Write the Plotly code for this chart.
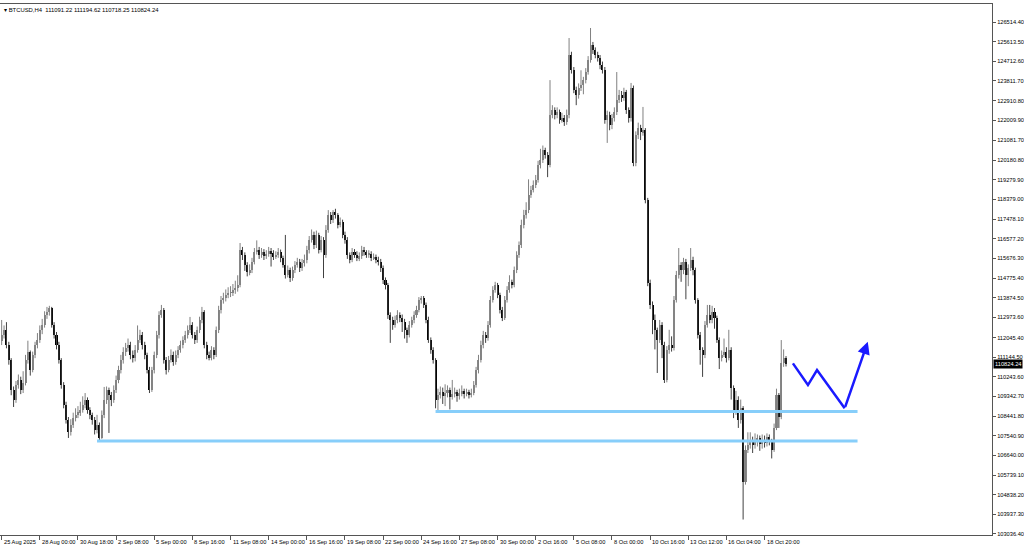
import plotly.graph_objects as go

# BTCUSD H4 bars (bar index 0 = 25 Aug 2025)
opens = [
    111900, 112160, 112390, 111700, 111010, 109640, 109180, 109870, 110100, 109640,
    109960, 111010, 111380, 110560, 111240, 111700, 111930, 112390, 112620, 113080,
    113210, 113400, 112620, 112160, 111700, 111010, 109870, 108950, 108260, 107710,
    108030, 108350, 108490, 108630, 108720, 108950, 109180, 108720, 108490, 108260,
    107800, 108030, 107440, 108490, 109180, 109640, 109410, 109180, 109640, 110100,
    110560, 111010, 111380, 111560, 111700, 111240, 111110, 111470, 111930, 112160,
    111700, 111240, 110560, 109640, 110560, 111240, 112160, 113080, 113310, 111010,
    110560, 111010, 111240, 110920, 111240, 111470, 111700, 111930, 112160, 112390,
    112620, 112160, 111930, 112390, 112850, 113210, 111700, 111240, 111110, 111470,
    111240, 112390, 113310, 113770, 113860, 114000, 114090, 114130, 114220, 114320,
    114450, 116060, 115830, 115370, 115050, 115140, 115510, 115970, 116060, 115830,
    115970, 115780, 115880, 116010, 115920, 115740, 115830, 115970, 115690, 115370,
    114910, 115140, 114770, 115140, 115370, 115510, 115230, 115460, 115600, 116060,
    116520, 116750, 116290, 116750, 116060, 116520, 115830, 116980, 117660, 117430,
    117800, 117660, 117200, 117340, 116750, 116520, 115830, 115600, 115970, 115830,
    115690, 115780, 116060, 115970, 115830, 115880, 115690, 115740, 115600, 115510,
    115230, 114680, 114450, 113080, 112850, 112620, 112850, 113080, 112940, 112760,
    112390, 112160, 112620, 112850, 113080, 113310, 113770, 113860, 113540, 112850,
    111930, 111470, 111010, 109180, 109410, 109550, 109360, 109500, 109640, 109320,
    109460, 109550, 109360, 109500, 109590, 109460, 109550, 109410, 109500, 109870,
    110560, 111010, 111700, 112160, 112020, 112620, 113770, 114220, 114450, 114000,
    113310, 112940, 113770, 114220, 114590, 114450, 115140, 115830, 116290, 117200,
    117660, 117890, 118580, 118810, 119040, 119270, 119960, 120190, 120640, 120420,
    119960, 122250, 122480, 122250, 122390, 122020, 122110, 121930, 122250, 125000,
    124310, 123400, 123170, 123490, 123630, 123850, 124220, 124770, 125460, 125230,
    125000, 124860, 124540, 124310, 122020, 122250, 121790, 122110, 122390, 122940,
    123170, 123030, 123300, 122480, 122110, 123490, 120050, 121330, 121650, 121470,
    121560, 118350, 114540, 113540, 112850, 112390, 111930, 112620, 111700, 110100,
    111470, 111700, 111560, 113770, 114910, 115370, 115140, 115510, 114910, 115230,
    115600, 115140, 113770, 112160, 111470, 111240, 112620, 113080, 112850, 113210,
    112940, 111930, 111110, 111240, 111380, 111110, 111470, 109730, 108720, 109180,
    108260, 108810, 105420, 106890, 107120, 107340, 107120, 107250, 107440, 107160,
    107340, 107210, 107480, 107300, 106890, 107900, 109410, 108400, 110900, 111091.22,
]
highs = [
    112850, 112600, 112750, 111850, 111100, 109800, 110050, 110350, 110250, 110500,
    111250, 111900, 111450, 111400, 111850, 112250, 112600, 112900, 113250, 113450,
    113500, 113450, 112750, 112300, 111850, 111100, 110000, 109100, 108400, 108300,
    108600, 108800, 108900, 109100, 109350, 109500, 109300, 108850, 108600, 108400,
    108500, 108150, 108700, 109780, 109800, 109750, 109550, 109850, 110300, 110750,
    111250, 111600, 111800, 112000, 111850, 111450, 111700, 112600, 112400, 112300,
    111850, 111350, 110700, 110700, 111400, 112350, 113250, 113540, 113400, 111150,
    111200, 111500, 111400, 111450, 111650, 111900, 112100, 112350, 112600, 112990,
    112750, 112300, 112550, 113000, 113450, 113300, 111850, 111400, 111650, 111600,
    112550, 113500, 113950, 114100, 114250, 114350, 114400, 114500, 114650, 114900,
    116380, 116200, 115950, 115500, 115400, 115700, 116150, 116500, 116200, 116150,
    116100, 116050, 116200, 116150, 116050, 116000, 116150, 116080, 115800, 116750,
    115350, 115250, 115300, 115550, 115700, 115650, 115650, 115850, 116250, 116700,
    117000, 116900, 116950, 116850, 116700, 116650, 117200, 117890, 117800, 117890,
    117950, 117750, 117550, 117450, 116900, 116650, 115950, 116150, 116100, 116000,
    115950, 116250, 116200, 116050, 116050, 116000, 115900, 115850, 115750, 115650,
    115350, 114800, 114550, 113200, 113000, 113050, 113300, 113200, 113100, 112900,
    112500, 112800, 113000, 113250, 113500, 113900, 113950, 113950, 113650, 113000,
    112050, 111600, 111100, 109700, 109800, 109750, 109900, 109850, 109750, 110100,
    109750, 109650, 109700, 109850, 109700, 109700, 109650, 109700, 110050, 110700,
    111250, 111900, 112350, 112300, 112800, 113950, 114400, 114600, 114550, 114100,
    113450, 113950, 114400, 114900, 114700, 115300, 116000, 116450, 117450, 117900,
    118250, 119300, 119000, 119250, 119500, 120150, 120700, 120850, 120750, 120550,
    123850, 122700, 122600, 122600, 122500, 122350, 122250, 122500, 125780, 125150,
    124450, 123550, 123700, 124300, 124000, 124400, 124950, 126240, 125600, 125350,
    125150, 125000, 124700, 124450, 122450, 122400, 122300, 122600, 124220, 123400,
    123350, 123500, 123400, 122600, 123720, 123600, 121500, 121900, 121800, 122620,
    121650, 118450, 114700, 113700, 113100, 112500, 112850, 112750, 111850, 111650,
    112400, 112100, 113950, 115100, 116150, 115500, 115700, 115650, 115400, 116150,
    115750, 115250, 113850, 112300, 111600, 112800, 113540, 113540, 113500, 113400,
    113050, 112050, 111450, 112000, 111600, 112400, 111600, 109850, 109600, 109350,
    109200, 108900, 107100, 107700, 107700, 107500, 107650, 107600, 107550, 107600,
    107550, 107650, 107600, 107400, 108100, 109700, 109500, 111930, 111500, 111194.62,
]
lows = [
    111700, 112000, 111550, 110800, 109400, 108860, 109050, 109700, 109450, 109500,
    109850, 110850, 110300, 110450, 111100, 111550, 111800, 112200, 112500, 112900,
    113050, 112500, 112000, 111500, 110850, 109700, 108800, 108100, 107440, 107550,
    107900, 108200, 108350, 108450, 108600, 108800, 108550, 108300, 108050, 107600,
    107650, 107300, 107400, 108350, 109000, 107670, 108900, 109050, 109500, 109950,
    110400, 110850, 111200, 111400, 111050, 110900, 110950, 111350, 111800, 111500,
    111050, 110400, 109500, 109550, 110400, 111100, 112000, 112950, 110850, 110350,
    110450, 110900, 110750, 110800, 111100, 111350, 111550, 111800, 112000, 112250,
    112000, 111750, 111800, 112250, 112700, 111550, 111050, 111000, 111000, 111050,
    111150, 112250, 113150, 113600, 113700, 113850, 113900, 113950, 114050, 114150,
    114350, 115600, 115100, 114850, 114900, 115000, 115400, 115850, 115650, 115700,
    115600, 115650, 115750, 115300, 115600, 115650, 115700, 115500, 115250, 114750,
    114800, 114590, 114650, 115000, 115250, 115050, 115100, 115300, 115450, 115900,
    116400, 116100, 116150, 115900, 115950, 114770, 115700, 116850, 117250, 117300,
    117500, 117050, 117100, 116600, 116350, 115650, 115450, 115500, 115700, 115550,
    115550, 115650, 115800, 115700, 115700, 115550, 115600, 115450, 115350, 115050,
    114500, 114250, 112900, 111800, 112400, 112500, 112700, 112750, 112300, 112000,
    111800, 112050, 112500, 112700, 112950, 113200, 113600, 113400, 112700, 111800,
    111300, 110850, 108800, 108640, 109250, 109000, 108900, 109300, 108750, 109200,
    109300, 109100, 109200, 109350, 109250, 109350, 109250, 109300, 109400, 109750,
    110400, 110900, 111550, 111800, 111900, 112500, 113650, 114100, 113850, 113150,
    112800, 112850, 113650, 114100, 114300, 114350, 115000, 115700, 116150, 117050,
    117500, 117750, 118450, 118700, 118900, 119150, 119800, 120050, 120250, 119400,
    119850, 122100, 122050, 122100, 121850, 121900, 121750, 121800, 122100, 124150,
    123250, 122700, 123000, 123350, 123200, 123700, 124100, 124650, 125050, 124850,
    124700, 124350, 124150, 121850, 120970, 121550, 121600, 121950, 122250, 122800,
    122850, 122900, 122300, 121900, 121950, 119900, 119900, 121150, 121100, 121300,
    118200, 114400, 113350, 112200, 111500, 110420, 111800, 111100, 109960, 109990,
    111300, 111400, 111450, 113650, 114750, 114600, 114950, 113800, 114400, 115100,
    114900, 113600, 112000, 110800, 110240, 111100, 112500, 112700, 112700, 112450,
    111800, 110600, 110950, 111150, 110900, 111000, 109200, 108350, 108500, 107900,
    108100, 103700, 105300, 106750, 106950, 106750, 106950, 107050, 106850, 106950,
    107000, 107050, 107100, 106500, 106800, 107800, 107900, 108300, 110700, 110718.25,
]
closes = [
    112160, 112390, 111700, 111010, 109640, 109180, 109870, 110100, 109640, 109960,
    111010, 111380, 110560, 111240, 111700, 111930, 112390, 112620, 113080, 113210,
    113400, 112620, 112160, 111700, 111010, 109870, 108950, 108260, 107710, 108030,
    108350, 108490, 108630, 108720, 108950, 109180, 108720, 108490, 108260, 107800,
    108030, 107440, 108490, 109180, 109640, 109410, 109180, 109640, 110100, 110560,
    111010, 111380, 111560, 111700, 111240, 111110, 111470, 111930, 112160, 111700,
    111240, 110560, 109640, 110560, 111240, 112160, 113080, 113310, 111010, 110560,
    111010, 111240, 110920, 111240, 111470, 111700, 111930, 112160, 112390, 112620,
    112160, 111930, 112390, 112850, 113210, 111700, 111240, 111110, 111470, 111240,
    112390, 113310, 113770, 113860, 114000, 114090, 114130, 114220, 114320, 114450,
    116060, 115830, 115370, 115050, 115140, 115510, 115970, 116060, 115830, 115970,
    115780, 115880, 116010, 115920, 115740, 115830, 115970, 115690, 115370, 114910,
    115140, 114770, 115140, 115370, 115510, 115230, 115460, 115600, 116060, 116520,
    116750, 116290, 116750, 116060, 116520, 115830, 116980, 117660, 117430, 117800,
    117660, 117200, 117340, 116750, 116520, 115830, 115600, 115970, 115830, 115690,
    115780, 116060, 115970, 115830, 115880, 115690, 115740, 115600, 115510, 115230,
    114680, 114450, 113080, 112850, 112620, 112850, 113080, 112940, 112760, 112390,
    112160, 112620, 112850, 113080, 113310, 113770, 113860, 113540, 112850, 111930,
    111470, 111010, 109180, 109410, 109550, 109360, 109500, 109640, 109320, 109460,
    109550, 109360, 109500, 109590, 109460, 109550, 109410, 109500, 109870, 110560,
    111010, 111700, 112160, 112020, 112620, 113770, 114220, 114450, 114000, 113310,
    112940, 113770, 114220, 114590, 114450, 115140, 115830, 116290, 117200, 117660,
    117890, 118580, 118810, 119040, 119270, 119960, 120190, 120640, 120420, 119960,
    122250, 122480, 122250, 122390, 122020, 122110, 121930, 122250, 125000, 124310,
    123400, 123170, 123490, 123630, 123850, 124220, 124770, 125460, 125230, 125000,
    124860, 124540, 124310, 122020, 122250, 121790, 122110, 122390, 122940, 123170,
    123030, 123300, 122480, 122110, 123490, 120050, 121330, 121650, 121470, 121560,
    118350, 114540, 113540, 112850, 112390, 111930, 112620, 111700, 110100, 111470,
    111700, 111560, 113770, 114910, 115370, 115140, 115510, 114910, 115230, 115600,
    115140, 113770, 112160, 111470, 111240, 112620, 113080, 112850, 113210, 112940,
    111930, 111110, 111240, 111380, 111110, 111470, 109730, 108720, 109180, 108260,
    108810, 105420, 106890, 107120, 107340, 107120, 107250, 107440, 107160, 107340,
    107210, 107480, 107300, 106890, 107900, 109410, 108400, 110900, 111091.22, 110824.24,
]

x_labels = ["25 Aug 2025", "28 Aug 00:00", "30 Aug 18:00", "2 Sep 08:00", "5 Sep 00:00",
            "8 Sep 16:00", "11 Sep 08:00", "14 Sep 00:00", "16 Sep 16:00", "19 Sep 08:00",
            "22 Sep 00:00", "24 Sep 16:00", "27 Sep 08:00", "30 Sep 00:00", "2 Oct 16:00",
            "5 Oct 08:00", "8 Oct 00:00", "10 Oct 16:00", "13 Oct 12:00", "16 Oct 04:00",
            "18 Oct 20:00"]
price_ticks = [126514.40, 125613.50, 124712.60, 123811.70, 122910.80, 122009.90, 121081.70,
               120180.80, 119279.90, 118379.00, 117478.10, 116577.20, 115676.30, 114775.40,
               113874.50, 112973.60, 112045.40, 111144.50, 110243.60, 109342.70, 108441.80,
               107540.90, 106640.00, 105739.10, 104838.20, 103937.30, 103036.40]

# support levels (price, first bar) and the projected path (bar, price)
support_levels = [108650, 107300]
support_start = [182, 40]
support_end = 359
path_bars = [331.9, 338.2, 342.0, 353.6, 363.3]
path_prices = [110862, 109866, 110555, 108799, 111853]

n = len(closes)
idx = list(range(n))
bull = [i for i in idx if closes[i] >= opens[i]]
bear = [i for i in idx if closes[i] < opens[i]]


def wicks(ids):
    xs, ys = [], []
    for i in ids:
        xs += [i, i, None]
        ys += [lows[i], highs[i], None]
    return xs, ys


fig = go.Figure()
for ids, col in [(bull, "#808080"), (bear, "#404040")]:
    wx, wy = wicks(ids)
    fig.add_trace(go.Scatter(x=wx, y=wy, mode="lines", line=dict(color=col, width=1),
                             hoverinfo="skip", showlegend=False))
for ids, col in [(bull, "#888888"), (bear, "#000000")]:
    fig.add_trace(go.Bar(x=ids,
                         base=[min(opens[i], closes[i]) for i in ids],
                         y=[abs(closes[i] - opens[i]) for i in ids],
                         width=0.85, marker=dict(color=col, line=dict(width=0)),
                         hoverinfo="skip", showlegend=False))

for lvl, st in zip(support_levels, support_start):
    fig.add_trace(go.Scatter(x=[st, support_end], y=[lvl, lvl], mode="lines",
                             line=dict(color="#87cefa", width=3), hoverinfo="skip",
                             showlegend=False))

fig.add_trace(go.Scatter(x=path_bars[:-1], y=path_prices[:-1], mode="lines",
                         line=dict(color="#1a1aff", width=2.5), hoverinfo="skip",
                         showlegend=False))
fig.add_annotation(x=path_bars[-1], y=path_prices[-1], ax=path_bars[-2], ay=path_prices[-2],
                   xref="x", yref="y", axref="x", ayref="y", text="", showarrow=True,
                   arrowhead=2, arrowsize=1, arrowwidth=2.5, arrowcolor="#1a1aff")

font = dict(family="Liberation Sans", size=5.7, color="#000000")

tick_pos = list(range(0, 16 * len(x_labels), 16))
for pos, lab in zip(tick_pos, x_labels):
    fig.add_annotation(x=pos, y=0, xref="x", yref="paper", text=lab, showarrow=False,
                       xanchor="left", yanchor="top", xshift=0, yshift=-2, font=font)

fig.add_annotation(x=0, y=1, xref="paper", yref="paper", xanchor="left", yanchor="top",
                   xshift=2, yshift=-1, showarrow=False,
                   font=dict(family="Liberation Sans", size=5.9, color="#000000"),
                   text="▾ BTCUSD,H4  111091.22 111194.62 110718.25 110824.24")

fig.add_annotation(x=1, y=closes[-1], xref="paper", yref="y", xanchor="left", xshift=1,
                   showarrow=False, text=f"{closes[-1]:.2f}", bgcolor="#000000",
                   borderpad=1, font=dict(family="Liberation Sans", size=5.7, color="#ffffff"))

fig.update_xaxes(range=[-0.7, 415.4], showgrid=False, zeroline=False,
                 showline=True, linecolor="#555555", linewidth=1, mirror=True,
                 tickmode="array", tickvals=tick_pos, ticks="outside", ticklen=4,
                 tickcolor="#555555", showticklabels=False)
fig.update_yaxes(range=[102990, 127340], side="right", showgrid=False, zeroline=False,
                 showline=True, linecolor="#555555", linewidth=1, mirror=True,
                 tickmode="array", tickvals=price_ticks,
                 ticktext=[f"{v:.2f}" for v in price_ticks],
                 ticks="outside", ticklen=3, tickcolor="#555555", tickfont=font)

fig.update_layout(width=1024, height=547, margin=dict(l=0, r=32, t=4, b=12),
                  paper_bgcolor="#ffffff", plot_bgcolor="#ffffff", barmode="overlay",
                  bargap=0, hovermode=False, showlegend=False)

fig.write_html("out.html", config={"displayModeBar": False},
               post_script="document.body.style.margin='0';document.body.style.overflow='hidden';")
